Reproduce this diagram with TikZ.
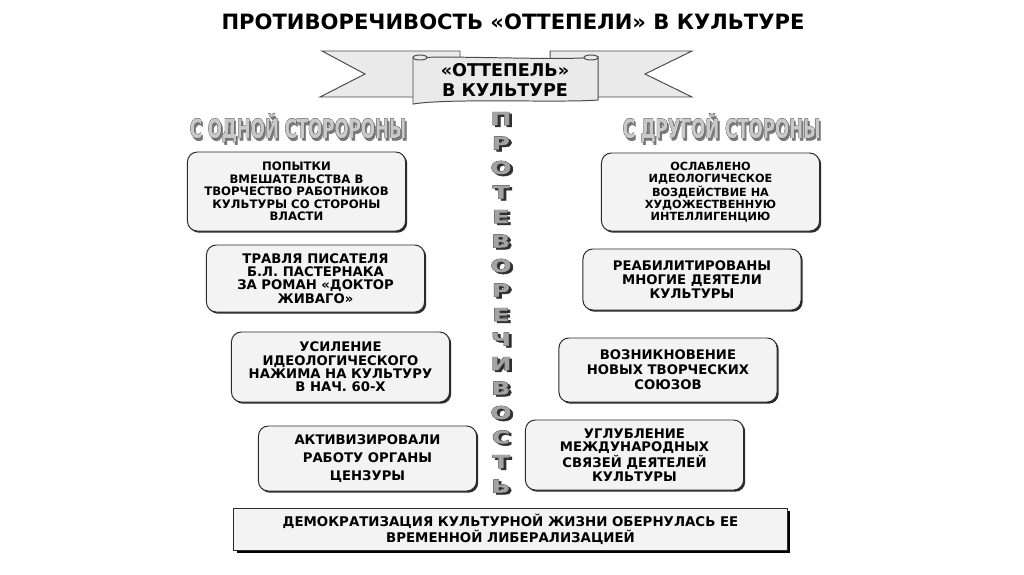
\documentclass[tikz,border=0pt]{standalone}
\usepackage{fontspec}
\setmainfont{DejaVu Sans}
\newfontfamily\fillfont[FakeBold=0.6]{DejaVu Sans Bold}
\newfontfamily\rimfont[FakeBold=3.2]{DejaVu Sans Bold}
\usepackage{graphicx}
\usepackage{tikz}
\usetikzlibrary{shadows}
\definecolor{diagink}{HTML}{2B2B2B}
\definecolor{diagpaper}{HTML}{F3F3F3}
\definecolor{diagribbon}{HTML}{EAEAEA}
\definecolor{diaghead}{HTML}{C9C9C9}
\definecolor{diagshade}{HTML}{7A7A7A}
\definecolor{diagletter}{HTML}{A3A3A3}
\definecolor{diagdeep}{HTML}{303030}
% fill colour, shadow colour, shadow offset, text
\newcommand{\embossed}[4]{%
  \makebox[0pt][l]{\hspace*{#3}\raisebox{-#3}{\textcolor{#2}{\rimfont #4}}}%
  \makebox[0pt][l]{\textcolor{diagink}{\rimfont #4}}%
  \textcolor{#1}{\fillfont #4}}
\newcommand{\sidehead}[1]{\scalebox{0.64}[1]{\embossed{diaghead}{diagshade}{1.8pt}{#1}}}
\newcommand{\columnletter}[1]{\scalebox{1.4}[1]{\embossed{diagletter}{diagdeep}{1.3pt}{#1}}}
\tikzset{
  boxshadow/.style={drop shadow={shadow xshift=1.2pt,shadow yshift=-1.2pt,
                    fill=diagink,opacity=1}},
  factbox/.style={rounded corners=7pt,draw=diagink,line width=0.7pt,
                  fill=diagpaper,boxshadow,align=center,
                  font=\fontsize{9.4pt}{9.5pt}\selectfont\bfseries,
                  minimum width=5.45cm,inner sep=2pt},
  summarybox/.style={draw=diagink,line width=0.7pt,fill=diagpaper,
                     drop shadow={shadow xshift=2pt,shadow yshift=-2pt,fill=black,opacity=1},
                     align=center,font=\fontsize{9.5pt}{11.4pt}\selectfont\bfseries,
                     minimum width=13.83cm,minimum height=1.05cm,inner sep=2pt},
  ribbonpart/.style={draw=diagink!85,line width=0.7pt,fill=diagribbon},
  headnode/.style={font=\fontsize{18.5pt}{20pt}\selectfont,inner sep=0pt},
  letternode/.style={font=\fontsize{12.5pt}{13pt}\selectfont,inner sep=0pt},
}
\begin{document}
\begin{tikzpicture}[x=0.025cm,y=-0.025cm]
  \path[fill=white,use as bounding box] (0,0) rectangle (1024,574);

  \node[font=\fontsize{15pt}{17pt}\selectfont\bfseries] (title) at (513,22)
    {ПРОТИВОРЕЧИВОСТЬ «ОТТЕПЕЛИ» В КУЛЬТУРЕ};

  \draw[ribbonpart] (322,51) -- (460,51) -- (460,97) -- (320,97) -- (365,74) -- cycle;
  \draw[ribbonpart] (692,51) -- (550,51) -- (550,97) -- (692,97) -- (645,74) -- cycle;
  \draw[ribbonpart] (413,58) .. controls (450,55) and (560,61) .. (598,57)
    -- (598,100) .. controls (560,103) and (450,98) .. (413,104) -- cycle;
  \draw[ribbonpart] (420,57.5) ellipse [x radius=7,y radius=2.5];
  \draw[ribbonpart] (591,57.5) ellipse [x radius=7,y radius=2.5];
  \node[align=center,font=\fontsize{12.5pt}{14.2pt}\selectfont\bfseries] (ribbontitle)
    at (505,80) {«ОТТЕПЕЛЬ»\\В КУЛЬТУРЕ};

  \node[headnode] (lefthead) at (298,129) {\sidehead{С ОДНОЙ СТОРОРОНЫ}};
  \node[headnode] (righthead) at (721.5,129) {\sidehead{С ДРУГОЙ СТОРОНЫ}};

  \foreach \ch [count=\n from 0] in {П,Р,О,Т,Е,В,О,Р,Е,Ч,И,В,О,С,Т,Ь}{
    \node[letternode] (l\n) at (501,{119.5+24.5*\n}) {\columnletter{\ch}};
  }

  \node[factbox,minimum height=1.975cm,font=\fontsize{8.3pt}{8.9pt}\selectfont\bfseries]
    (left1) at (296.5,191.5)
    {ПОПЫТКИ\\ВМЕШАТЕЛЬСТВА В\\ТВОРЧЕСТВО РАБОТНИКОВ\\КУЛЬТУРЫ СО СТОРОНЫ\\ВЛАСТИ};
  \node[factbox,minimum height=1.675cm] (left2) at (315.5,278.5)
    {ТРАВЛЯ ПИСАТЕЛЯ\\Б.Л. ПАСТЕРНАКА\\ЗА РОМАН «ДОКТОР\\ЖИВАГО»};
  \node[factbox,minimum height=1.75cm] (left3) at (340.5,367)
    {УСИЛЕНИЕ\\ИДЕОЛОГИЧЕСКОГО\\НАЖИМА НА КУЛЬТУРУ\\В НАЧ. 60-Х};
  \node[factbox,minimum height=1.625cm,font=\fontsize{9.4pt}{12.8pt}\selectfont\bfseries]
    (left4) at (367.5,458.5) {АКТИВИЗИРОВАЛИ\\РАБОТУ ОРГАНЫ\\ЦЕНЗУРЫ};

  \node[factbox,minimum height=1.95cm,font=\fontsize{8pt}{8.5pt}\selectfont\bfseries]
    (right1) at (710.5,192)
    {ОСЛАБЛЕНО\\ИДЕОЛОГИЧЕСКОЕ\\ВОЗДЕЙСТВИЕ НА\\ХУДОЖЕСТВЕННУЮ\\ИНТЕЛЛИГЕНЦИЮ};
  \node[factbox,minimum height=1.525cm,font=\fontsize{9.4pt}{10pt}\selectfont\bfseries]
    (right2) at (692,279.5) {РЕАБИЛИТИРОВАНЫ\\МНОГИЕ ДЕЯТЕЛИ\\КУЛЬТУРЫ};
  \node[factbox,minimum height=1.6cm,font=\fontsize{9.4pt}{10.7pt}\selectfont\bfseries]
    (right3) at (668,370) {ВОЗНИКНОВЕНИЕ\\НОВЫХ ТВОРЧЕСКИХ\\СОЮЗОВ};
  \node[factbox,minimum height=1.75cm] (right4) at (634.5,455)
    {УГЛУБЛЕНИЕ\\МЕЖДУНАРОДНЫХ\\СВЯЗЕЙ ДЕЯТЕЛЕЙ\\КУЛЬТУРЫ};

  \node[summarybox] (summary) at (510.5,529)
    {ДЕМОКРАТИЗАЦИЯ КУЛЬТУРНОЙ ЖИЗНИ ОБЕРНУЛАСЬ ЕЕ\\ВРЕМЕННОЙ ЛИБЕРАЛИЗАЦИЕЙ};
\end{tikzpicture}
\end{document}
